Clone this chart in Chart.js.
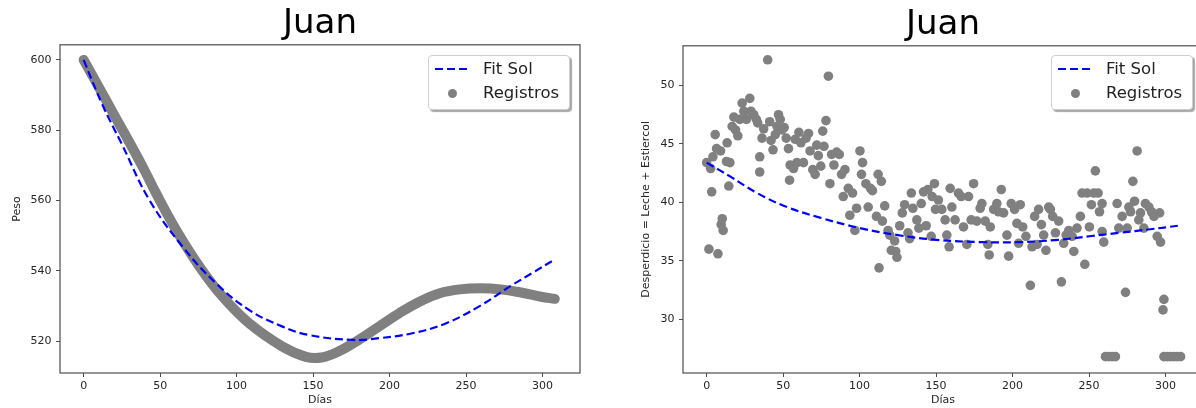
<!DOCTYPE html>
<html lang="es">
<head>
    <meta charset="UTF-8">
    <title>Juan</title>
    <script src="https://cdn.jsdelivr.net/npm/chart.js"></script>
    <style>
        body {
            margin: 0;
            width: 1196px;
            height: 408px;
            overflow: hidden;
            background: #fff;
            position: relative;
            font-family: 'DejaVu Sans', sans-serif;
        }
        .panel {
            position: absolute;
            top: 0;
        }
        .legend {
            position: absolute;
            top: 55px;
            width: 142px;
            height: 55px;
            padding-top: 1px;
            box-sizing: border-box;
            background: #fff;
            border: 1px solid #cfcfcf;
            border-radius: 4px;
            box-shadow: 2px 2px 1px rgba(0,0,0,0.35);
            font-size: 16.5px;
            color: #222;
        }
        .legend-row {
            height: 24px;
            position: relative;
        }
        .legend-row .sample {
            position: absolute;
            left: 6px;
            width: 34px;
            top: 11px;
            height: 2.2px;
        }
        .legend-row .dot {
            position: absolute;
            left: 19px;
            top: 8px;
            width: 9px;
            height: 9px;
            border-radius: 50%;
        }
        .legend-row span.label {
            position: absolute;
            left: 54px;
            top: 2px;
            line-height: 20px;
            white-space: nowrap;
        }
    </style>
</head>
<body>
    <div class="panel" style="left:0;width:600px;height:408px"><canvas id="leftChart" width="600" height="408"></canvas></div>
    <div class="panel" style="left:600px;width:620px;height:408px"><canvas id="rightChart" width="620" height="408"></canvas></div>
    <div class="legend" id="leftLegend" style="left:428px"></div>
    <div class="legend" id="rightLegend" style="left:1051px"></div>

    <script>
        // Peso (left panel)
        const pesoDays = [0, 10, 20, 30, 40, 47.4, 60.5, 75.7, 90.9, 108.3, 130, 145.3, 155.4, 166.5, 179.7, 193, 206.3, 219.5, 232.8, 246, 259.3, 272.6, 285.9, 299.1, 308];
        const pesoValues = [600, 592.2, 584.3, 576.5, 568.4, 562, 551.6, 541.2, 532.6, 525, 518.4, 515.5, 515.3, 517, 520.3, 524.1, 527.9, 531.2, 533.6, 534.7, 535, 534.7, 533.8, 532.6, 532];
        const pesoFitDays = [0, 12, 25, 43, 64.8, 86.6, 108.3, 130, 147.4, 175.7, 193, 214.8, 236.6, 258.3, 280, 293, 307.5];
        const pesoFitValues = [600, 587.5, 576, 560.1, 546.8, 536.4, 528.8, 524.1, 521.7, 520.3, 520.8, 522.2, 525, 529.8, 535.9, 539.3, 543.1];

        // Desperdicio (right panel)
        const despDays = [0, 2.6, 4.1, 3.3, 1.5, 7.4, 5.6, 6.5, 9.1, 10.2, 9.5, 10.8, 13.4, 13, 15.2, 14.5, 16.7, 17.8, 18.9, 20.4,
            21.7, 23.2, 24.3, 26, 28.2, 29, 30.8, 32.5, 33.4, 34.7, 34.7, 36.2, 37.3, 39.9, 41.2, 42.1, 43.4, 44.9, 46, 47,
            48.1, 49.2, 50.7, 52, 53.5, 54.2, 54.6, 56.8, 57.9, 59, 60.3, 61.6, 63.3, 65, 66.6, 67.6, 69.4, 70.9, 72, 73,
            74.6, 75.9, 76.7, 78, 79.6, 80.6, 81.7, 83.2, 85, 86.7, 88.2, 89.3, 90.4, 92.6, 93.6, 95.4, 96.9, 98, 100.2, 101.9,
            101.2, 104.1, 105.6, 107.1, 108.4, 111, 112.1, 112.7, 114.2, 114.9, 116.4, 118.6, 119.7, 120.7, 122.9, 123.6, 124.4, 126.2, 127.9, 129.4,
            131.6, 132.7, 133.8, 134.8, 137.4, 138.7, 140.3, 141.8, 143.5, 144.6, 146.8, 147.4, 148.9, 149.6, 151.5, 153.7, 155.9, 157, 159.2, 160.3,
            158.5, 162.4, 164.6, 166.4, 167.9, 170.1, 171.2, 172.9, 174.5, 176.6, 178.8, 179.9, 182.1, 183.8, 184.7, 185.4, 187.6, 189.7, 190.8, 192.6,
            194.1, 196.3, 197.4, 199.1, 201.3, 202.8, 203.9, 205, 206.6, 208.7, 211.6, 212.7, 214.4, 216, 217, 218.8, 220.3, 221.8, 223.6, 224.7,
            226.2, 228, 230.1, 231.9, 233.4, 235, 236.7, 238.9, 240, 242.1, 244.3, 245.4, 247.2, 248.7, 250.2, 251.5, 253.1, 254.1, 255.9, 256.8,
            258.5, 259.6, 258.5, 260.7, 262.9, 265.1, 267.2, 268.3, 269.4, 271.6, 273.8, 274.9, 276, 277.1, 278.6, 279.7, 281.4, 282.5, 283.6, 285.8,
            286.8, 289.1, 290.8, 292.4, 294.5, 296.7, 296.1, 298.3, 298.9, 298.9, 301.1, 303.3, 305.5, 307.6, 309.8];
        const despValues = [43.4, 42.9, 43.9, 40.9, 36.0, 35.6, 45.8, 44.6, 44.4, 38.6, 38.1, 37.6, 45.1, 43.5, 43.4, 41.4, 46.5, 47.3, 46.2, 45.7,
            47.1, 48.5, 47.8, 47.1, 48.9, 47.8, 47.5, 47.1, 46.8, 43.9, 42.6, 45.5, 46.3, 52.2, 46.9, 45.3, 44.5, 45.8, 46.5, 47.5,
            47.1, 46.2, 46.4, 45.5, 44.6, 41.9, 43.2, 42.9, 45.4, 43.4, 46, 45.1, 43.4, 45.5, 45.9, 44.4, 42.8, 42.4, 44.9, 44,
            43.1, 46.1, 44.8, 47, 50.8, 41.6, 44.1, 43.2, 44.3, 44.1, 42.4, 40.5, 42.8, 41.2, 38.9, 40.8, 37.6, 39.5, 44.4, 43.4,
            42.4, 41.6, 39.6, 41.2, 41, 38.8, 42.4, 34.4, 41.8, 38.4, 39.7, 37.6, 37.2, 35.9, 36.7, 35.8, 35.3, 38, 39.1, 39.8,
            37.4, 36.9, 40.8, 39.5, 38.5, 37.8, 39.9, 40.9, 38, 41.1, 37.1, 40.5, 41.6, 39.4, 40.2, 39.4, 38.5, 37.2, 41.2, 39.6,
            36.2, 38.5, 40.8, 40.5, 37.9, 36.4, 40.5, 38.5, 41.6, 38.4, 39.5, 39.9, 38.4, 36.4, 35.5, 37.9, 39.4, 39.9, 39.2, 41.1,
            39.1, 37.2, 35.4, 39.9, 39.4, 38.2, 36.5, 39.8, 37.9, 37.1, 32.9, 36.2, 38.8, 36.4, 39.4, 38.1, 37.2, 35.9, 39.6, 39.4,
            38.8, 37.4, 38.4, 33.2, 36.5, 37.2, 37.6, 37.1, 35.8, 37.8, 38.8, 40.8, 34.7, 40.8, 37.9, 39.8, 40.8, 42.7, 40.8, 39.2,
            39.9, 36.6, 37.5, 26.8, 26.8, 26.8, 26.8, 39.9, 37.8, 38.8, 32.3, 37.8, 39.6, 39.2, 41.8, 40.1, 44.4, 38.5, 39.1, 37.8,
            39.9, 39.6, 39.2, 38.8, 37.1, 36.6, 39.1, 30.8, 31.7, 26.8, 26.8, 26.8, 26.8, 26.8, 26.8];
        const despFitDays = [0, 15.6, 33, 52.5, 74, 100, 125, 150, 180, 205, 230, 250, 270, 290, 308];
        const despFitValues = [43.4, 42.2, 40.8, 39.6, 38.7, 37.8, 37.2, 36.8, 36.6, 36.6, 36.8, 37.1, 37.4, 37.7, 38.0];

        // ticks
        const dayTicks = [0, 50, 100, 150, 200, 250, 300];
        const pesoTicks = [520, 540, 560, 580, 600];
        const despTicks = [30, 35, 40, 45, 50];

        const titleText = 'Juan';
        const fitLabel = 'Fit Sol';
        const dataLabel = 'Registros';

        Chart.defaults.font.family = "'DejaVu Sans', sans-serif";
        Chart.defaults.color = '#262626';

        const AXIS_COLOR = '#4d4d4d';

        const frame = {
            id: 'frame',
            afterDatasetsDraw(chart) {
                const a = chart.chartArea;
                const ctx = chart.ctx;
                ctx.save();
                ctx.strokeStyle = AXIS_COLOR;
                ctx.lineWidth = 1.2;
                ctx.strokeRect(a.left, a.top, a.right - a.left, a.bottom - a.top);
                ctx.restore();
            }
        };

        function toPoints(xs, ys) {
            return xs.map((x, i) => ({ x: x, y: ys[i] }));
        }

        function makeChart(id, cfg) {
            return new Chart(document.getElementById(id), {
                type: 'scatter',
                data: {
                    datasets: [{
                        label: fitLabel,
                        data: toPoints(cfg.fitX, cfg.fitY),
                        showLine: true,
                        borderColor: '#0000ff',
                        borderWidth: 2.2,
                        borderDash: [8, 4],
                        tension: 0.4,
                        pointRadius: 0,
                        legendKind: 'line'
                    }, {
                        label: dataLabel,
                        data: toPoints(cfg.dataX, cfg.dataY),
                        showLine: cfg.band,
                        borderColor: '#808080',
                        borderWidth: cfg.band ? 10 : 0,
                        borderCapStyle: 'round',
                        borderJoinStyle: 'round',
                        tension: 0.4,
                        backgroundColor: '#808080',
                        pointRadius: cfg.band ? 0 : 4.8,
                        pointBorderWidth: 0,
                        legendKind: 'dot'
                    }]
                },
                options: {
                    responsive: false,
                    animation: false,
                    layout: { padding: { top: cfg.padTop, right: cfg.padRight, left: 0, bottom: 0 } },
                    plugins: {
                        legend: { display: false },
                        tooltip: { enabled: false },
                        title: {
                            display: true,
                            text: titleText,
                            fullSize: false,
                            color: '#000',
                            font: { size: 34, weight: 'normal' },
                            padding: { top: 4, bottom: 0 }
                        }
                    },
                    scales: {
                        x: {
                            type: 'linear',
                            min: -15.45,
                            max: 324.45,
                            afterFit: s => { s.height = 35; },
                            afterBuildTicks: s => { s.ticks = dayTicks.map(v => ({ value: v })); },
                            ticks: { font: { size: 11 }, padding: 3, maxRotation: 0 },
                            grid: { drawOnChartArea: false, drawTicks: true, tickLength: 4, color: AXIS_COLOR },
                            border: { display: false },
                            title: { display: true, text: 'Días', font: { size: 11 }, padding: { top: 0, bottom: 1.5 } }
                        },
                        y: {
                            min: cfg.yMin,
                            max: cfg.yMax,
                            afterFit: s => { s.width = cfg.yWidth; },
                            afterBuildTicks: s => { s.ticks = cfg.yTicks.map(v => ({ value: v })); },
                            ticks: { font: { size: 11 }, padding: 4.5 },
                            grid: { drawOnChartArea: false, drawTicks: true, tickLength: 4, color: AXIS_COLOR },
                            border: { display: false },
                            title: { display: true, text: cfg.yTitle, font: { size: 11 }, padding: { top: cfg.yTitlePad, bottom: 0 } }
                        }
                    }
                },
                plugins: [frame]
            });
        }

        function buildLegend(chart, el) {
            chart.data.datasets.forEach(ds => {
                const row = document.createElement('div');
                row.className = 'legend-row';
                const mark = document.createElement('div');
                if (ds.legendKind === 'line') {
                    mark.className = 'sample';
                    mark.style.background = `repeating-linear-gradient(90deg, ${ds.borderColor} 0 8px, transparent 8px 12px)`;
                } else {
                    mark.className = 'dot';
                    mark.style.background = ds.backgroundColor;
                }
                const label = document.createElement('span');
                label.className = 'label';
                label.textContent = ds.label;
                row.appendChild(mark);
                row.appendChild(label);
                el.appendChild(row);
            });
        }

        const leftChart = makeChart('leftChart', {
            fitX: pesoFitDays, fitY: pesoFitValues,
            dataX: pesoDays, dataY: pesoValues, band: true,
            yMin: 510.9, yMax: 604.3, yTicks: pesoTicks,
            yWidth: 60, yTitle: 'Peso', yTitlePad: 10.5,
            padTop: 0, padRight: 20
        });

        const rightChart = makeChart('rightChart', {
            fitX: despFitDays, fitY: despFitValues,
            dataX: despDays, dataY: despValues, band: false,
            yMin: 25.4, yMax: 53.4, yTicks: despTicks,
            yWidth: 83, yTitle: 'Desperdicio = Leche + Estiercol', yTitlePad: 40,
            padTop: 1, padRight: 17
        });

        buildLegend(leftChart, document.getElementById('leftLegend'));
        buildLegend(rightChart, document.getElementById('rightLegend'));
    </script>
</body>
</html>
